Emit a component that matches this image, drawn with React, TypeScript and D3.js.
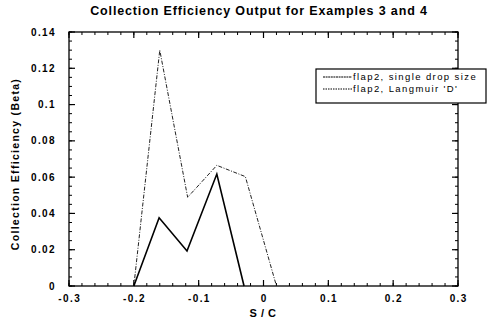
import React from "react";
import * as d3 from "d3";

const xTicks = [-0.3, -0.2, -0.1, 0, 0.1, 0.2, 0.3];
const yTicks = [0, 0.02, 0.04, 0.06, 0.08, 0.1, 0.12, 0.14];
const xSingle = [-0.2, -0.161, -0.118, -0.072, -0.03];
const ySingle = [0, 0.0376, 0.0193, 0.0617, 0];
const xLang = [-0.2, -0.16, -0.117, -0.072, -0.028, 0.02];
const yLang = [0, 0.13, 0.0489, 0.0665, 0.0603, 0];
const seriesNames = ["flap2, single drop size", "flap2, Langmuir 'D'"];
const title = "Collection Efficiency Output for Examples 3 and 4";
const xLabel = "S / C";
const yLabel = "Collection  Efficiency  (Beta)";

export default function App() {
  const W = 487, H = 323;
  const L = 69, R = 458, T = 32, B = 286;
  const x = d3.scaleLinear().domain([-0.3, 0.3]).range([L, R]);
  const y = d3.scaleLinear().domain([0, 0.14]).range([B, T]);
  const line = d3.line<[number, number]>().x(d => x(d[0])).y(d => y(d[1]));
  const s1 = xSingle.map((v, i) => [v, ySingle[i]] as [number, number]);
  const s2 = xLang.map((v, i) => [v, yLang[i]] as [number, number]);
  const xMinor = d3.range(-0.3, 0.3001, 0.02);
  const yMinor = d3.range(0, 0.1401, 0.005);
  const font = "'Liberation Sans', Arial, sans-serif";
  return (
    <svg width={W} height={H} style={{ position: "absolute", left: 0, top: 0, background: "#fff" }}>
      <rect width={W} height={H} fill="#fff" />
      <text x={259} y={15} textAnchor="middle" fontFamily={font} fontWeight="bold" fontSize={12.5} letterSpacing={0.85} fill="#000">{title}</text>
      <rect x={L} y={T} width={R - L} height={B - T} fill="none" stroke="#000" strokeWidth={1.3} />
      {xMinor.map((v, i) => (
        <g key={"xm" + i}>
          <line x1={x(v)} x2={x(v)} y1={B} y2={B - 3} stroke="#000" strokeWidth={1} />
          <line x1={x(v)} x2={x(v)} y1={T} y2={T + 3} stroke="#000" strokeWidth={1} />
        </g>
      ))}
      {xTicks.map((v, i) => (
        <g key={"xt" + i}>
          <line x1={x(v)} x2={x(v)} y1={B} y2={B - 6} stroke="#000" strokeWidth={1.2} />
          <line x1={x(v)} x2={x(v)} y1={T} y2={T + 6} stroke="#000" strokeWidth={1.2} />
          <text x={x(v) + 0.7} y={302} textAnchor="middle" fontFamily={font} fontWeight="bold" fontSize={10} letterSpacing={1.4}>{String(v)}</text>
        </g>
      ))}
      {yMinor.map((v, i) => (
        <g key={"ym" + i}>
          <line x1={L} x2={L + 3} y1={y(v)} y2={y(v)} stroke="#000" strokeWidth={1} />
          <line x1={R} x2={R - 3} y1={y(v)} y2={y(v)} stroke="#000" strokeWidth={1} />
        </g>
      ))}
      {yTicks.map((v, i) => (
        <g key={"yt" + i}>
          <line x1={L} x2={L + 6} y1={y(v)} y2={y(v)} stroke="#000" strokeWidth={1.2} />
          <line x1={R} x2={R - 6} y1={y(v)} y2={y(v)} stroke="#000" strokeWidth={1.2} />
          <text x={56} y={y(v) + 3.5} textAnchor="end" fontFamily={font} fontWeight="bold" fontSize={10} letterSpacing={1.4}>{String(v)}</text>
        </g>
      ))}
      <text x={263} y={317} textAnchor="middle" fontFamily={font} fontWeight="bold" fontSize={11} letterSpacing={0.5}>{xLabel}</text>
      <text transform={`translate(19,${(T + B) / 2 + 5}) rotate(-90)`} textAnchor="middle" fontFamily={font} fontWeight="bold" fontSize={10.5} letterSpacing={1.3}>{yLabel}</text>
      <path d={line(s2) || ""} fill="none" stroke="#222" strokeWidth={1} strokeDasharray="4,1.5,1,1.5" />
      <path d={line(s1) || ""} fill="none" stroke="#000" strokeWidth={1.6} />
      <rect x={316} y={69} width={170} height={34} fill="#fff" stroke="#000" strokeWidth={1.2} />
      <line x1={323} x2={352} y1={77} y2={77} stroke="#000" strokeWidth={1} strokeDasharray="2,0.6" />
      <text x={353} y={80} fontFamily={font} fontSize={9.5} letterSpacing={1.4} fill="#000">{seriesNames[0]}</text>
      <line x1={323} x2={352} y1={89} y2={89} stroke="#000" strokeWidth={1} strokeDasharray="1.5,1" />
      <text x={353} y={92} fontFamily={font} fontSize={9.5} letterSpacing={1.4} fill="#000">{seriesNames[1]}</text>
    </svg>
  );
}
